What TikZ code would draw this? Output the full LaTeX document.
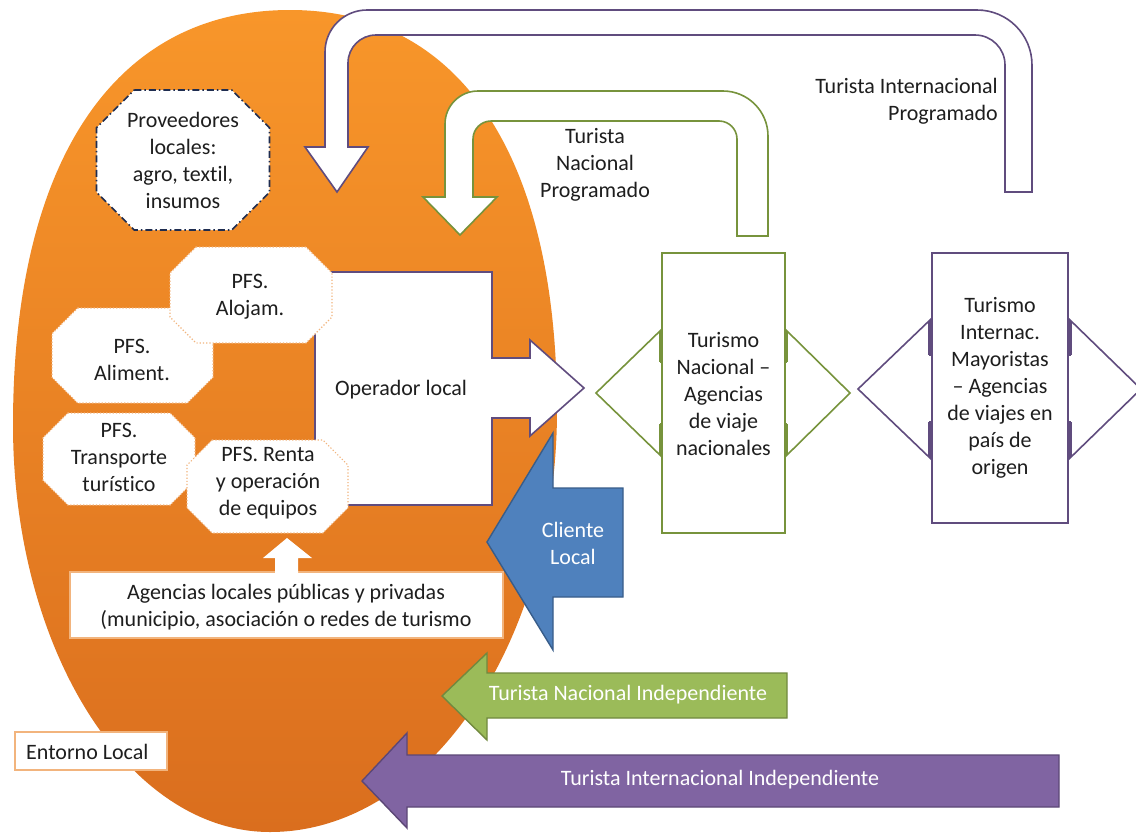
\documentclass[tikz,border=0pt]{standalone}
\usepackage{fontspec}
\setmainfont{Carlito}[Ligatures=NoCommon]
\usetikzlibrary{calc}
\definecolor{orgTop}{RGB}{248,150,42}
\definecolor{orgBot}{RGB}{218,110,30}
\definecolor{purp}{RGB}{96,76,126}
\definecolor{grn}{RGB}{119,147,60}
\definecolor{blu}{RGB}{79,129,189}
\definecolor{bluD}{RGB}{56,93,138}
\definecolor{grnF}{RGB}{155,187,89}
\definecolor{grnD}{RGB}{113,137,63}
\definecolor{purF}{RGB}{128,100,162}
\definecolor{purD}{RGB}{92,71,118}
\definecolor{peach}{RGB}{242,180,125}
\definecolor{navy}{RGB}{31,45,80}
\definecolor{txtc}{RGB}{30,30,30}

\newcommand{\octpath}[5]{%
  \pgfmathsetmacro\octA{#4/2}\pgfmathsetmacro\octB{#5/2}\pgfmathsetmacro\octC{0.27*min(#4,#5)}%
  \path[#1] ({#2-\octA+\octC},{#3-\octB}) -- ({#2+\octA-\octC},{#3-\octB}) -- ({#2+\octA},{#3-\octB+\octC}) -- ({#2+\octA},{#3+\octB-\octC}) -- ({#2+\octA-\octC},{#3+\octB}) -- ({#2-\octA+\octC},{#3+\octB}) -- ({#2-\octA},{#3+\octB-\octC}) -- ({#2-\octA},{#3-\octB+\octC}) -- cycle;}

\tikzset{
  txt/.style={align=center, text=txtc, font=\fontsize{22}{27}\selectfont, inner sep=0pt},
  wtxt/.style={txt, text=white},
  pfs/.style={fill=white, draw=peach, line width=1.2pt, dotted},
  prov/.style={fill=white, draw=navy, line width=1.6pt, dash pattern=on 7pt off 3pt on 1.5pt off 3pt},
  purpline/.style={draw=purp, line width=1.6pt, fill=white, line join=miter},
  grnline/.style={draw=grn, line width=1.6pt, fill=white, line join=miter},
  gstub/.style={draw=grn, line width=4pt},
  pstub/.style={draw=purp, line width=4pt},
}

\begin{document}
\begin{tikzpicture}[x=1pt,y=-1pt]
\useasboundingbox (0,0) rectangle (1136,833);
\fill[white] (0,0) rectangle (1136,833);

% local environment (orange egg)
\shade[top color=orgTop, bottom color=orgBot]
  (13,425) .. controls (13,165) and (112,10) .. (290,10)
  .. controls (463,10) and (557,160) .. (557,410)
  .. controls (557,643) and (428,832) .. (270,832)
  .. controls (128,832) and (13,650) .. (13,425) -- cycle;

% Turista Internacional Programado (purple U-arrow)
\path[purpline] (1032,192) -- (1032,65) .. controls (1032,34.6) and (1007.4,10) .. (977,10)
  -- (367,10) .. controls (343.8,10) and (325,28.8) .. (325,52)
  -- (325,147) -- (305,147) -- (337,192) -- (368,147) -- (348,147)
  -- (348,63) .. controls (348,47.5) and (360.5,35) .. (376,35)
  -- (975,35) .. controls (991.6,35) and (1005,48.4) .. (1005,65)
  -- (1005,192) -- cycle;

% Turista Nacional Programado (green U-arrow)
\path[grnline] (768,236) -- (768,136) .. controls (768,111.2) and (747.8,91) .. (723,91)
  -- (478,91) .. controls (459.8,91) and (445,105.8) .. (445,124)
  -- (445,197) -- (423,197) -- (460,235) -- (497,197) -- (473,197)
  -- (473,139) .. controls (473,129.1) and (481.1,121) .. (491,121)
  -- (719,121) .. controls (728.9,121) and (737,129.1) .. (737,139)
  -- (737,236) -- cycle;

% Proveedores locales
\octpath{prov}{183}{160}{173}{140}
\node[txt] (prov) at (183,160) {Proveedores\\locales:\\agro, textil,\\insumos};

% PFS octagons (back ones)
\octpath{pfs}{132.5}{355.5}{161}{95}
\node[txt] (alim) at (132,360) {PFS.\\Aliment.};
\octpath{pfs}{119}{459}{152}{92}
\node[txt] (transp) at (119,457) {PFS.\\Transporte\\turístico};

% Operador local arrow
\path[purpline] (315,272) -- (492,272) -- (492,358) -- (530,358) -- (530,340) -- (584,388)
  -- (530,436) -- (530,418) -- (492,418) -- (492,505) -- (315,505) -- cycle;
\node[txt] (oper) at (401,390) {Operador local};

% PFS octagons (front ones)
\octpath{pfs}{251}{295}{162}{96}
\node[txt] (aloj) at (250,297) {PFS.\\Alojam.};
\octpath{pfs}{267.5}{486.5}{161}{93}
\node[txt] (renta) at (268,483) {PFS. Renta\\y operación\\de equipos};

% Cliente Local arrow
\path[fill=blu, draw=bluD, line width=1.4pt] (487,542) -- (553,433) -- (553,488) -- (623,488)
  -- (623,597) -- (553,597) -- (553,650) -- cycle;
\node[wtxt] (cli) at (573,543) {Cliente\\Local};

% Agencias locales
\path[fill=white, draw=peach, line width=1.4pt] (70,572) rectangle (503,638);
\node[txt] (ag) at (286,607) {Agencias locales públicas y privadas\\(municipio, asociación o redes de turismo};
\path[fill=white] (275,574) -- (275,558) -- (263,558) -- (287,538) -- (312,558) -- (298,558) -- (298,574) -- cycle;

% Turismo Nacional double arrow + box
\path[grnline] (596,393) -- (661,330) -- (661,362) -- (786,362) -- (786,330) -- (850,393)
  -- (786,456) -- (786,424) -- (661,424) -- (661,456) -- cycle;
\path[grnline] (662,253) rectangle (785,533);
\path[gstub] (661,331) -- (661,362);
\path[gstub] (661,424) -- (661,455);
\path[gstub] (786,331) -- (786,362);
\path[gstub] (786,424) -- (786,455);
\node[txt] (tn) at (723.5,394) {Turismo\\Nacional –\\Agencias\\de viaje\\nacionales};

% Turismo Internacional double arrow + box
\path[purpline] (858,389) -- (930,320) -- (930,355) -- (1070,355) -- (1070,320) -- (1141,389)
  -- (1070,458) -- (1070,422) -- (930,422) -- (930,458) -- cycle;
\path[purpline] (932,253) rectangle (1068,523);
\path[pstub] (930,321) -- (930,355);
\path[pstub] (930,422) -- (930,457);
\path[pstub] (1070,321) -- (1070,355);
\path[pstub] (1070,422) -- (1070,457);
\node[txt] (ti) at (1000,388) {Turismo\\Internac.\\Mayoristas\\– Agencias\\de viajes en\\país de\\origen};

% Turista Nacional Independiente
\path[fill=grnF, draw=grnD, line width=1.4pt] (442,696) -- (487,653) -- (487,673) -- (787,673)
  -- (787,718) -- (487,718) -- (487,740) -- cycle;
\node[wtxt] (tni) at (628,695) {Turista Nacional Independiente};

% Turista Internacional Independiente
\path[fill=purF, draw=purD, line width=1.4pt] (362,781) -- (407,733) -- (407,755) -- (1059,755)
  -- (1059,807) -- (407,807) -- (407,828) -- cycle;
\node[wtxt] (tii) at (720,780) {Turista Internacional Independiente};

% Entorno Local
\path[fill=white, draw=peach, line width=1.4pt] (15,732) rectangle (167,770);
\node[txt, anchor=west] (ent) at (26,752) {Entorno Local};

% labels of programmed flows
\node[txt] (tnp) at (595,165) {Turista\\Nacional\\Programado};
\node[txt, align=right, anchor=east] (tip) at (998,101) {Turista Internacional\\Programado};
\end{tikzpicture}
\end{document}
